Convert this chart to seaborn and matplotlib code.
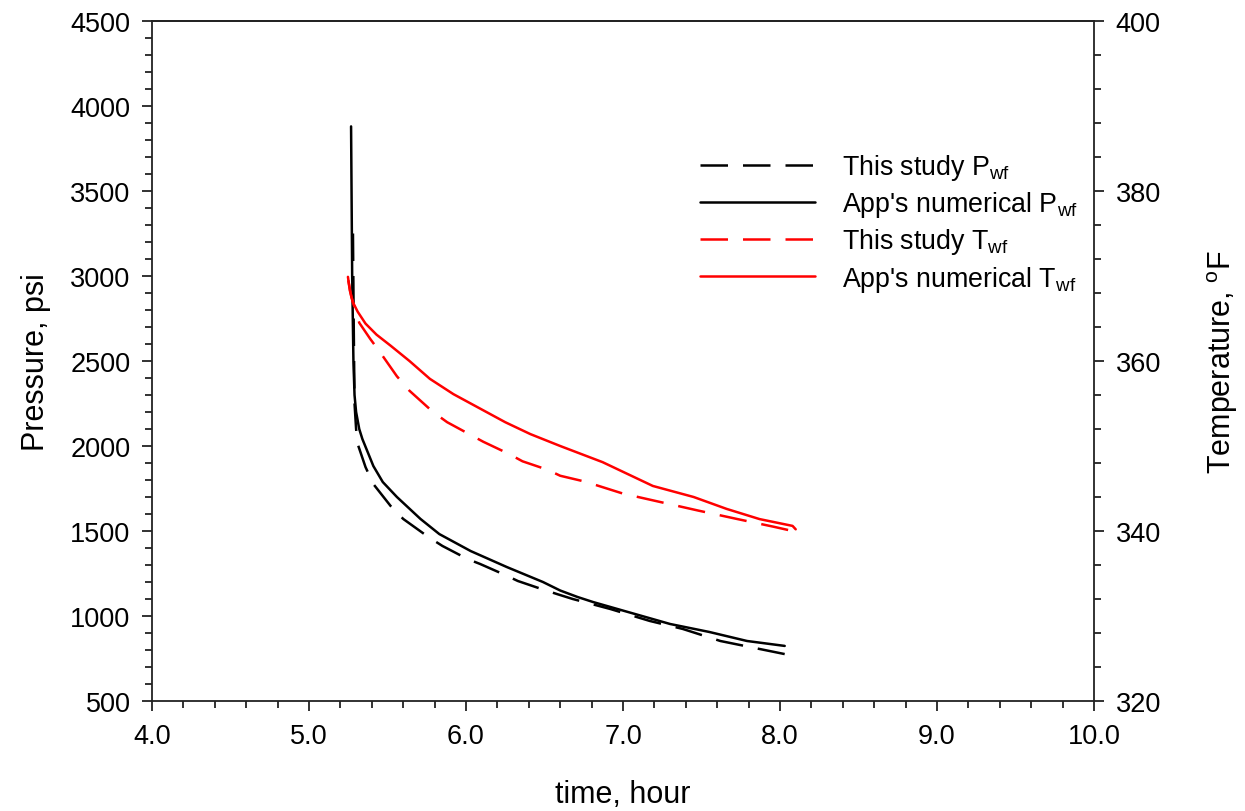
import numpy as np
import pandas as pd
import matplotlib
matplotlib.use("Agg")
import matplotlib.pyplot as plt
from matplotlib.ticker import MultipleLocator, FormatStrFormatter
import seaborn as sns

# ---- data ----
time_p_app = [5.268, 5.275, 5.283, 5.29, 5.30, 5.32, 5.34, 5.41, 5.47, 5.56, 5.71, 5.83,
              6.03, 6.26, 6.49, 6.60, 6.71, 6.81, 7.03, 7.30, 7.55, 7.79, 8.03]
p_app = [3880, 3000, 2500, 2300, 2200, 2100, 2041, 1882, 1788, 1700, 1571, 1482,
         1382, 1288, 1200, 1150, 1112, 1082, 1024, 953, 906, 853, 824]

time_p_study = [5.28, 5.285, 5.29, 5.30, 5.31, 5.36, 5.41, 5.52, 5.60, 5.76, 5.85, 6.01,
                6.09, 6.25, 6.33, 6.48, 6.58, 6.68, 6.92, 7.17, 7.38, 7.62, 7.87, 8.03]
p_study = [3250, 2700, 2250, 2100, 2012, 1876, 1776, 1647, 1571, 1465, 1412, 1335,
           1306, 1241, 1206, 1159, 1129, 1100, 1041, 971, 924, 853, 806, 776]

time_t_app = [5.248, 5.26, 5.28, 5.31, 5.36, 5.43, 5.52, 5.64, 5.77, 5.92, 6.09, 6.25,
              6.41, 6.60, 6.87, 7.03, 7.19, 7.45, 7.66, 7.87, 8.08, 8.10]
t_app = [369.9, 368.3, 366.9, 365.8, 364.4, 363.1, 361.8, 360.0, 357.9, 356.1, 354.4,
         352.8, 351.4, 350.0, 348.1, 346.7, 345.3, 344.0, 342.6, 341.4, 340.6, 340.2]

time_t_study = [5.25, 5.27, 5.32, 5.39, 5.45, 5.56, 5.64, 5.79, 5.88, 6.04, 6.11, 6.27,
                6.36, 6.52, 6.60, 6.76, 7.00, 7.24, 7.48, 7.73, 7.96, 8.08]
t_study = [369.5, 367.5, 364.5, 362.6, 361.1, 358.2, 356.5, 354.0, 352.8, 351.2, 350.5,
           349.1, 348.2, 347.2, 346.5, 345.8, 344.4, 343.4, 342.4, 341.4, 340.5, 340.0]

labels = [r"This study P$_{\rm wf}$", r"App's numerical P$_{\rm wf}$",
          r"This study T$_{\rm wf}$", r"App's numerical T$_{\rm wf}$"]

# ---- style ----
sns.set_theme(style="ticks")
plt.rcParams['font.family'] = ['Liberation Sans', 'DejaVu Sans']
plt.rcParams['mathtext.fontset'] = 'custom'
plt.rcParams['mathtext.rm'] = 'Liberation Sans'
plt.rcParams['mathtext.it'] = 'Liberation Sans:italic'
plt.rcParams['text.color'] = 'black'
plt.rcParams['axes.labelcolor'] = 'black'

fig = plt.figure(figsize=(12.45, 8.12), dpi=100)
ax = fig.add_axes([152/1245, 110/812, (1094-152)/1245, (702-22)/812])
ax2 = ax.twinx()

dash = (0, (11, 6))
lw = 1.8
sns.lineplot(x=time_p_study, y=p_study, ax=ax, color='black', linewidth=lw,
             linestyle=dash, sort=False, estimator=None, label=labels[0], legend=False)
sns.lineplot(x=time_p_app, y=p_app, ax=ax, color='black', linewidth=lw,
             sort=False, estimator=None, label=labels[1], legend=False)
sns.lineplot(x=time_t_study, y=t_study, ax=ax2, color='red', linewidth=lw,
             linestyle=dash, sort=False, estimator=None, label=labels[2], legend=False)
sns.lineplot(x=time_t_app, y=t_app, ax=ax2, color='red', linewidth=lw,
             sort=False, estimator=None, label=labels[3], legend=False)

ax.set_xlim(4.0, 10.0)
ax.set_ylim(500, 4500)
ax2.set_ylim(320, 400)

ax.xaxis.set_major_locator(MultipleLocator(1.0))
ax.xaxis.set_minor_locator(MultipleLocator(0.2))
ax.xaxis.set_major_formatter(FormatStrFormatter('%.1f'))
ax.yaxis.set_major_locator(MultipleLocator(500))
ax.yaxis.set_minor_locator(MultipleLocator(100))
ax2.yaxis.set_major_locator(MultipleLocator(20))
ax2.yaxis.set_minor_locator(MultipleLocator(4))

for a in (ax, ax2):
    for s in a.spines.values():
        s.set_linewidth(1.3)
        s.set_color('#222222')
ax.spines['right'].set_visible(False)
ax2.spines['left'].set_visible(False)
ax2.spines['bottom'].set_visible(False)
ax2.spines['top'].set_visible(True)

ax.tick_params(axis='both', which='major', direction='out', length=7.5, width=1.3,
               labelsize=19.5, pad=8, colors='#222222', labelcolor='black')
ax.tick_params(axis='both', which='minor', direction='out', length=5, width=1.3,
               colors='#222222')
ax.tick_params(axis='x', which='both', top=False)
ax.tick_params(axis='y', which='both', right=False)
ax2.tick_params(axis='y', which='major', direction='out', length=7.5, width=1.3,
                labelsize=19.5, pad=8, colors='#222222', labelcolor='black')
ax2.tick_params(axis='y', which='minor', direction='out', length=5, width=1.3,
                colors='#222222')

ax.set_xlabel("time, hour", fontsize=22, labelpad=22)
ax.set_ylabel("Pressure, psi", fontsize=22, labelpad=14)
ax2.set_ylabel(r"Temperature, $^{\rm o}$F", fontsize=22, labelpad=32)

handles = ax.get_lines()[:2] + ax2.get_lines()[:2]
fig.legend(handles, labels, loc='upper left', bbox_to_anchor=(700/1245, 1 - 153/812),
           frameon=False, fontsize=19.3, handlelength=4.3, handletextpad=1.0,
           labelspacing=0.27, borderpad=0, borderaxespad=0)

fig.savefig("out.png", dpi=100, facecolor='white')
